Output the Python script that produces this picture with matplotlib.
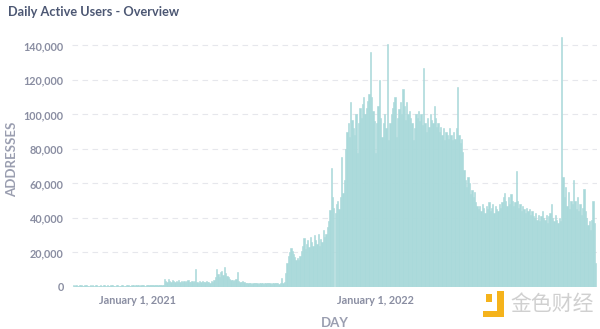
import numpy as np
import matplotlib
matplotlib.use("Agg")
import matplotlib.pyplot as plt
import matplotlib.dates as mdates
from matplotlib.patches import Rectangle
from matplotlib.ticker import FuncFormatter

# Daily active addresses, thousands, one value per 2-day bucket starting 2020-09-23
quiet_start = [
    0.9, 0.7, 1.0, 0.8, 0.6, 0.9, 1.1, 0.8, 0.7, 0.9,
    1.0, 0.8, 0.6, 0.9, 0.8, 1.2, 0.7, 0.9, 1.0, 0.8,
    0.7, 0.9, 0.8, 1.0, 1.1, 0.8, 0.9, 0.7, 0.8, 1.0,
    0.9, 0.8, 0.6, 0.9, 1.0, 0.8, 0.7, 0.9, 1.0, 0.8,
    0.8, 1.0, 0.9, 0.7, 0.8, 0.9, 1.1, 0.8, 0.9, 1.0,
    0.9, 0.8, 1.0, 1.1, 0.9, 0.8, 1.0, 0.9, 1.1, 1.0,
    1.0, 1.2, 0.9, 1.1, 1.0, 1.2, 1.1, 1.0, 1.2, 1.3,
]
early_2021 = [
    4.5, 3.2, 2.8, 4.6, 3.5, 3.0, 4.0, 3.3, 2.9, 3.6,
    3.1, 3.8, 2.8, 3.4, 3.0, 3.6, 2.7, 3.2, 3.9, 3.0,
    2.8, 3.4, 3.1, 3.6, 10.4, 3.0, 2.6, 3.2, 2.9, 3.5,
    2.7, 3.0, 3.3, 2.8, 3.1, 2.6, 3.4, 3.0, 4.2, 5.5,
    10.4, 7.5, 6.0, 8.5, 9.0, 7.0, 11.8, 8.0, 6.5, 5.5,
    4.5, 3.8, 4.2, 3.5, 3.9, 4.6, 8.9, 3.6, 3.0, 2.8,
    3.2, 2.7, 2.5, 2.4,
]
mid_2021 = [
    2.3, 2.1, 2.4, 2.0, 2.2, 2.5, 2.1, 2.3, 2.0, 2.2,
    2.4, 2.1, 2.0, 2.3, 2.2, 2.5, 2.1, 2.4, 2.0, 2.2,
    2.3, 2.1, 2.2, 2.4, 2.0, 2.3, 5.0,
]
ramp_2021 = [
    2.5, 3, 8, 14, 18, 20, 22.6, 21, 19, 17.5,
    15.7, 17, 15.5, 18, 21, 24, 28.4, 22, 25, 27,
    23, 29, 26, 24, 30, 27, 25, 31, 24, 28,
    26, 33, 29, 31, 35, 38, 44.6,
]
late_2021 = [
    69, 52, 46, 43, 48, 50, 45, 52, 75.6, 54.5,
    62, 80, 90, 95, 87, 107, 97, 92, 88, 100,
    77.6, 95, 104, 98, 106, 110, 100, 104, 108, 112,
    136, 110, 102, 96, 77.6, 95, 105, 120, 98, 87,
    95, 100, 92,
]
early_2022 = [
    141, 85, 95, 100, 104, 107, 110, 87, 98, 103,
    107, 100, 115, 105, 97, 107, 100, 102, 98, 95,
    85, 92, 100, 98, 102, 96, 100, 94, 127, 95,
    90, 98, 93, 100, 97, 95, 105, 98, 93, 95,
    90, 93, 88, 92, 85, 90, 88, 86, 92, 88,
    85, 90, 86, 92, 116, 88, 83.5, 86, 78, 68,
]
decline_2022 = [
    62, 58, 64, 60, 54, 56, 52, 55, 49, 47,
    45, 47, 44, 48, 46, 43, 47, 45, 49, 44,
    46, 48, 43, 47, 45, 44, 48,
    46, 49, 52, 54.5, 50, 47, 52, 48, 54, 50, 47, 49,
    67, 50, 46, 48, 44, 47, 45, 43, 46, 44, 45, 42, 44, 41,
]
end_2022 = [
    40, 43, 39, 42, 38, 41, 44, 40, 39, 42,
    37, 41, 43, 48, 40, 38, 42, 39, 37, 40,
    38, 145, 64, 52, 58, 47, 55, 45, 50, 48,
    62, 50, 45, 52, 44, 48, 42, 46, 57, 44,
    40, 36, 38, 33, 39, 50, 37, 14,
]

segments = [quiet_start, early_2021, mid_2021, ramp_2021,
            late_2021, early_2022, decline_2022, end_2022]
values = np.concatenate([np.asarray(s, dtype=float) for s in segments]) * 1000
start = np.datetime64("2020-09-23")
days = start + np.arange(len(values)) * np.timedelta64(2, "D")
x = mdates.date2num(days.astype("datetime64[D]").astype(object))

TEXT = "#8A8EA2"
TITLE = "#4C5773"
BAR = "#A9D9DA"

plt.rcParams["font.family"] = ["Lato", "DejaVu Sans"]

fig = plt.figure(figsize=(6.0, 3.29), dpi=100)
ax = fig.add_axes([0.12, 0.1277, 0.875, 0.776])

ax.bar(x, values, width=2.0, color=BAR, edgecolor=BAR, linewidth=0.4,
       align="edge", zorder=2)

ax.set_ylim(0, 148000)
ax.set_xlim(x[0] - 1, x[-1] + 3)
ax.set_yticks(np.arange(0, 140001, 20000))
ax.yaxis.set_major_formatter(FuncFormatter(lambda v, _: f"{int(v):,}"))
xt = mdates.date2num([np.datetime64("2021-01-01").astype(object),
                      np.datetime64("2022-01-01").astype(object)])
ax.set_xticks(xt)
ax.set_xticklabels(["January 1, 2021", "January 1, 2022"])

ax.grid(axis="y", color="#E6E7EC", linestyle=(0, (5, 4)), linewidth=0.8, zorder=0)
for s in ax.spines.values():
    s.set_visible(False)
ax.tick_params(length=0, labelsize=7.8, labelcolor=TEXT, pad=6)
for lab in ax.get_xticklabels() + ax.get_yticklabels():
    lab.set_fontweight("bold")

ax.set_ylabel("ADDRESSES", fontsize=9.5, color="#9A9EB0", fontweight="bold", labelpad=4)
ax.set_xlabel("DAY", fontsize=9.5, color="#9A9EB0", fontweight="bold", labelpad=8)

fig.text(0.013, 0.965, "Daily Active Users - Overview", fontsize=9.2, color=TITLE,
         fontweight="bold", va="center", ha="left")

# watermark logo in the lower right
wm = fig.add_axes([0.805, 0.035, 0.038, 0.085])
wm.set_xlim(0, 1); wm.set_ylim(0, 1); wm.axis("off")
for (rx, ry, rw, rh) in [(0.15, 0.55, 0.25, 0.3), (0.6, 0.45, 0.3, 0.5),
                         (0.0, 0.0, 0.9, 0.22), (0.6, 0.0, 0.3, 0.5)]:
    wm.add_patch(Rectangle((rx, ry), rw, rh, color="#F5B31B", lw=0))
fig.text(0.85, 0.075, "金色财经", fontsize=15,
         family=["Noto Sans CJK SC", "DejaVu Sans"], color="#D0D0D0",
         va="center", ha="left")

fig.savefig("out.png", dpi=100)
